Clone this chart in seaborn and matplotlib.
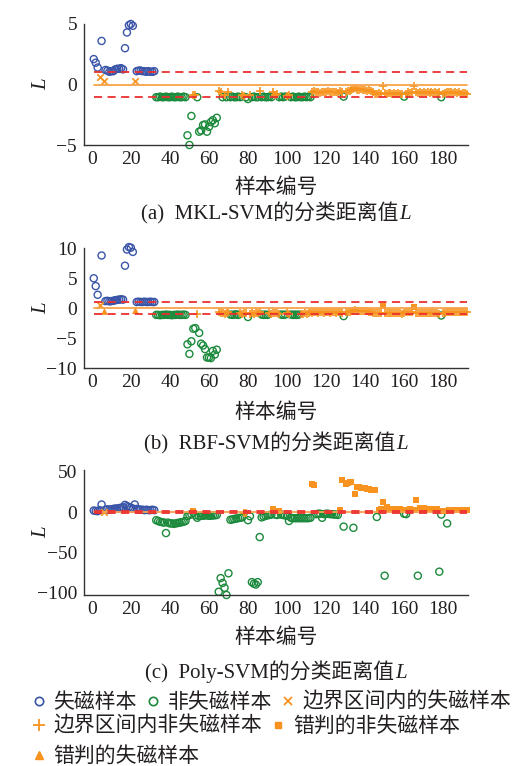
import numpy as np
import pandas as pd
import matplotlib
matplotlib.use("Agg")
import matplotlib.pyplot as plt
import seaborn as sns
from matplotlib.offsetbox import TextArea, HPacker, AnchoredOffsetbox
from matplotlib.lines import Line2D

# ---------------- data ----------------
n_fault = 32          # samples 1..32 are loss-of-excitation samples
n_total = 192
margin = 1.0

L_mkl = [
    2.1, 1.8, 1.4, 0.65, 3.6, 0.25, 1.2, 1.15, 1.05, 1.1,
    1.1, 1.25, 1.3, 1.3, 1.35, 1.25, 3.0, 4.3, 4.9, 5.0,
    4.85, 0.25, 1.1, 1.15, 1.15, 1.1, 1.1, 1.05, 1.1, 1.05,
    1.05, 1.1, -1.05, -1.05, -1.0, -1.05, -1.05, -1.0, -1.05, -1.05,
    -1.0, -1.05, -1.05, -1.0, -1.05, -1.05, -1.0, -1.05, -4.2, -5.0,
    -2.6, -0.85, -0.9, -1.05, -3.9, -3.8, -3.35, -3.3, -3.9, -3.5,
    -3.1, -2.95, -3.2, -2.75, -0.55, -0.6, -1.05, -0.85, -1.05, -0.6,
    -1.05, -1.0, -1.05, -1.05, -1.0, -1.05, -0.9, -0.95, -1.05, -1.2,
    -0.9, -1.05, -1.0, -1.05, -1.05, -0.55, -1.05, -1.0, -1.05, -1.05,
    -1.0, -1.05, -0.65, -0.85, -0.8, -1.05, -1.0, -1.05, -1.0, -0.95,
    -0.9, -1.05, -1.0, -1.05, -1.05, -1.0, -1.05, -1.05, -1.0, -1.05,
    -1.0, -1.05, -0.6, -0.55, -0.65, -0.6, -0.7, -0.6, -0.65, -0.6,
    -0.55, -0.6, -0.65, -0.6, -0.6, -0.7, -0.55, -0.6, -1.0, -0.6,
    -0.55, -0.5, -0.45, -0.4, -0.3, -0.45, -0.45, -0.4, -0.45, -0.45,
    -0.5, -0.45, -0.5, -0.6, -0.75, -0.75, -0.7, -0.8, -0.1, -0.7,
    -0.75, -0.7, -0.7, -0.75, -0.7, -0.75, -0.7, -0.75, -0.8, -1.0,
    -0.75, -0.65, -0.7, -0.6, -0.1, -0.65, -0.7, -0.65, -0.7, -0.65,
    -0.7, -0.65, -0.7, -0.65, -0.7, -0.65, -0.7, -0.6, -1.05, -0.75,
    -0.7, -0.6, -0.65, -0.65, -0.7, -0.65, -0.7, -0.65, -0.75, -0.7,
    -0.7, -0.75,
]

L_rbf = [
    5.0, 3.7, 2.25, 0.55, 8.8, -0.4, 1.2, 1.25, 1.15, 1.2,
    1.25, 1.35, 1.4, 1.45, 1.5, 1.45, 7.1, 9.8, 10.2, 10.1,
    9.4, -0.3, 1.05, 1.1, 1.05, 1.05, 1.1, 1.05, 1.05, 1.1,
    1.05, 1.05, -1.1, -1.1, -1.15, -1.1, -1.1, -1.05, -1.1, -1.1,
    -1.15, -1.1, -1.1, -1.05, -1.1, -1.1, -1.05, -1.1, -6.0, -7.6,
    -5.5, -3.4, -3.3, -0.95, -4.1, -5.9, -6.2, -6.8, -8.2, -8.2,
    -8.3, -7.1, -7.7, -6.9, -0.6, -0.8, -0.7, -0.9, -0.75, -0.6,
    -1.05, -1.1, -1.05, -1.0, -1.1, -0.8, -0.9, -0.7, -0.85, -1.45,
    -0.9, -0.85, -0.95, -0.75, -0.8, -0.6, -1.05, -1.1, -1.05, -1.1,
    -0.85, -0.9, -0.8, -0.7, -0.85, -0.9, -1.05, -1.1, -1.05, -0.85,
    -0.9, -1.05, -1.1, -1.05, -1.1, -1.05, -0.9, -0.95, -0.85, -0.9,
    -0.7, -0.65, -0.7, -0.6, -0.65, -0.7, -0.6, -0.65, -0.7, -0.6,
    -0.65, -0.7, -0.6, -0.65, -0.7, -0.6, -0.65, -0.7, -1.3, -0.6,
    -0.55, -0.6, -0.5, -0.45, -0.2, -0.4, -0.45, -0.5, -0.45, -0.5,
    -0.5, -0.55, -0.6, -0.7, -0.8, -0.75, -0.8, -0.85, 0.45, -0.8,
    -0.75, -0.8, -0.85, -0.8, -0.75, -0.8, -0.85, -0.8, -0.9, -0.8,
    -0.6, -0.65, -0.6, -0.55, 0.25, -0.7, -0.75, -0.7, -0.8, -0.75,
    -0.8, -0.75, -0.8, -0.75, -0.8, -0.75, -0.8, -0.9, -1.2, -0.85,
    -0.8, -0.6, -0.55, -0.6, -0.55, -0.6, -0.65, -0.6, -0.65, -0.6,
    -0.55, -0.6,
]

L_poly = [
    2.0, 1.5, 1.2, 2.5, 9.5, 0.6, 3.0, 3.5, 3.0, 3.5,
    4.0, 4.5, 4.5, 5.0, 5.5, 6.0, 9.0, 7.5, 6.5, 5.5,
    4.5, 9.5, 4.0, 3.5, 3.0, 3.0, 2.5, 3.0, 2.5, 2.5,
    3.0, 2.5, -10, -11, -12, -12.5, -13, -26, -13, -14,
    -14, -14.5, -14, -13.5, -13, -12.5, -12, -11, -5, -3.5,
    -2.5, 1.5, -4, -7, -5, -4.5, -4.5, -4, -4, -4.5,
    -4.5, -4, -4, -3.5, -99, -82, -88, -94, -103, -76,
    -9.5, -9, -8.5, -8, -7.5, -7, -6.5, -0.5, -0.6, -10,
    -5, -87, -89, -90, -87, -31, -6.5, -5.5, -4.5, -4,
    -3.5, -3, 4, -3, -3.5, 2, -3, -3.5, -4, -4.5,
    -11, -7, -7.5, -7.5, -7.5, -7.5, -7.5, -7.5, -7.5, -7.5,
    -7.5, -7, 35, 34, -2.5, -2, -2, -7, -2.5, -2,
    -2, -2.5, -2.5, -3, -3, -3.5, 3, 40, -18, 35,
    36.5, 37.5, 38, -19.5, 22, 31, 31, 30.5, 30, 29.5,
    29, 28.5, 28, 27.5, 27, -6, 3, 3.5, 12, -79,
    7, 4.5, 4, 4, 3.5, 3.5, 3.5, 3.5, 3, -2,
    -2.5, 3, 3.5, 3, 3, 15, -79, 5.5, 5, 5,
    4.5, 4.5, 4.5, 4, 4, 4, 4, -74, -3, 1.5,
    2, -14, 2.5, 2.5, 3, 3, 3, 3, 3, 3,
    2.5, 2.5,
]

panel_titles = ["(a)  MKL-SVM的分类距离值", "(b)  RBF-SVM的分类距离值", "(c)  Poly-SVM的分类距离值"]
title_italic = "L"
x_label = "样本编号"
y_label = "L"
x_ticks = [0, 20, 40, 60, 80, 100, 120, 140, 160, 180]
y_ticks = [[-5, 0, 5], [-10, -5, 0, 5, 10], [-100, -50, 0, 50]]
y_limits = [(-5, 5), (-10, 10), (-103, 53)]
legend_labels = ["失磁样本", "非失磁样本", "边界区间内的失磁样本",
                 "边界区间内非失磁样本", "错判的非失磁样本", "错判的失磁样本"]

# ---------------- style ----------------
BLUE = "#3a55a8"
GREEN = "#1c8a3c"
ORANGE = "#f7931e"
ORANGE_LINE = "#f7a24a"
RED = "#ec2f2f"
TXT = "#231f20"
SERIF = "Liberation Serif"
CJK = "Noto Sans CJK SC"

sns.set_theme(style="white")
plt.rcParams["font.family"] = [SERIF, CJK]
plt.rcParams["axes.unicode_minus"] = True

W, H = 517, 766
fig = plt.figure(figsize=(W / 100, H / 100), dpi=100)
fig.patch.set_facecolor("white")

def fx(px):
    return px / W

def fy(py):
    return 1 - py / H

cat_styles = {
    0: dict(marker="o", facecolor="none", edgecolor=BLUE, s=26, linewidth=1.0),
    1: dict(marker="o", facecolor="none", edgecolor=GREEN, s=26, linewidth=1.0),
    2: dict(marker="x", color=ORANGE, s=22, linewidth=1.2),
    3: dict(marker="+", color=ORANGE, s=40, linewidth=1.2),
    4: dict(marker="s", color=ORANGE, edgecolor=ORANGE, s=14, linewidth=0),
    5: dict(marker="^", color=ORANGE, edgecolor=ORANGE, s=24, linewidth=0),
}

def categorize(L, fault):
    if fault:
        if L >= margin:
            return 0
        return 2 if L >= 0 else 5
    if L <= -margin:
        return 1
    return 3 if L <= 0 else 4

# panel geometry in pixels: (top, bottom)
panels_px = [(24, 145), (248.3, 368.3), (469.5, 595)]
xlabel_px = [188, 413, 638]
title_px = [213, 443, 672]
left_px, right_px = 84, 468

for i, (L_vals, (top, bot)) in enumerate(zip([L_mkl, L_rbf, L_poly], panels_px)):
    assert len(L_vals) == n_total
    sample = np.arange(1, n_total + 1)
    fault = sample <= n_fault
    df = pd.DataFrame({"x": sample, "L": L_vals, "fault": fault})
    df["cat"] = [categorize(l, f) for l, f in zip(df["L"], df["fault"])]

    ax = fig.add_axes([fx(left_px), fy(bot), fx(right_px) - fx(left_px), (bot - top) / H])
    for c in [1, 0, 3, 2, 4, 5]:
        sub = df[df["cat"] == c]
        if len(sub) == 0:
            continue
        sns.scatterplot(data=sub, x="x", y="L", ax=ax, clip_on=False, zorder=2,
                        legend=False, **cat_styles[c])
    xs = [sample.min(), sample.max()]
    ax.plot(xs, [0, 0], color=ORANGE_LINE, lw=1.3, zorder=3)
    ax.plot(xs, [margin, margin], color=RED, lw=1.3, ls=(0, (4.5, 3)), zorder=4)
    ax.plot(xs, [-margin, -margin], color=RED, lw=1.3, ls=(0, (4.5, 3)), zorder=4)

    ax.set_xlim(-4, 192.7)
    ax.set_ylim(*y_limits[i])
    ax.set_xticks(x_ticks)
    ax.set_yticks(y_ticks[i])
    for s in ["top", "right"]:
        ax.spines[s].set_visible(False)
    for s in ["left", "bottom"]:
        ax.spines[s].set_color("#333333")
        ax.spines[s].set_linewidth(1.0)
    ax.tick_params(direction="in", length=4, width=1.0, colors="#333333",
                   labelcolor=TXT, labelsize=14)
    ax.tick_params(axis="x", pad=4)
    ax.tick_params(axis="y", pad=5)
    for lab in ax.get_xticklabels() + ax.get_yticklabels():
        lab.set_family(SERIF)
    ax.set_facecolor("white")

    ax.set_xlabel(x_label, fontsize=15, color=TXT, family=[SERIF, CJK], va="center")
    ax.xaxis.set_label_coords(0.5, (bot - xlabel_px[i]) / (bot - top))
    ax.set_ylabel(y_label, fontsize=15, color=TXT, family=SERIF, style="italic")
    ax.yaxis.set_label_coords(-0.085, 0.5)

    ta1 = TextArea(panel_titles[i], textprops=dict(family=[SERIF, CJK], size=15, color=TXT))
    ta2 = TextArea(title_italic, textprops=dict(family=SERIF, style="italic", size=15, color=TXT))
    box = HPacker(children=[ta1, ta2], align="baseline", pad=0, sep=1)
    anch = AnchoredOffsetbox(loc="center", child=box, pad=0, borderpad=0, frameon=False,
                             bbox_to_anchor=(fx((left_px + right_px) / 2), fy(title_px[i])),
                             bbox_transform=fig.transFigure)
    fig.add_artist(anch)

# ---------------- legend ----------------
def proxy(c):
    st = cat_styles[c]
    if c in (0, 1):
        return Line2D([], [], ls="none", marker="o", mfc="none", mec=st["edgecolor"], ms=6, mew=1.2)
    if c == 2:
        return Line2D([], [], ls="none", marker="x", color=ORANGE, ms=6, mew=1.3)
    if c == 3:
        return Line2D([], [], ls="none", marker="+", color=ORANGE, ms=8, mew=1.3)
    if c == 4:
        return Line2D([], [], ls="none", marker="s", color=ORANGE, ms=5)
    return Line2D([], [], ls="none", marker="^", color=ORANGE, ms=6)

rows = [([0, 1, 2], 703), ([3, 4], 727), ([5], 757)]
for cats, ypx in rows:
    leg = fig.legend(handles=[proxy(c) for c in cats], labels=[legend_labels[c] for c in cats],
                     loc="center left", bbox_to_anchor=(fx(30.5), fy(ypx)),
                     ncol=len(cats), frameon=False, borderpad=0, borderaxespad=0,
                     handlelength=0.8, handletextpad=0.3, columnspacing=0.37,
                     prop=dict(family=[SERIF, CJK], size=15))
    for t in leg.get_texts():
        t.set_color(TXT)

fig.savefig("out.png", dpi=100, facecolor="white")
